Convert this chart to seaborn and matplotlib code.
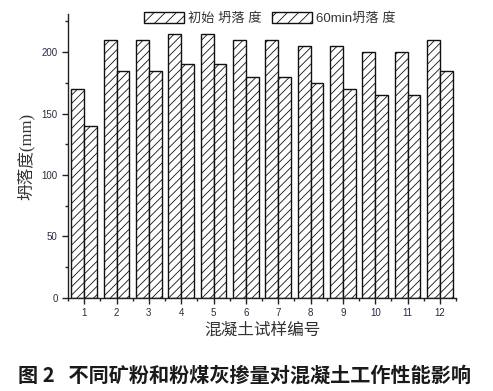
import matplotlib
matplotlib.use("Agg")
import matplotlib.pyplot as plt
import seaborn as sns
import pandas as pd
import numpy as np
from matplotlib.patches import Patch
from matplotlib.ticker import MultipleLocator

samples = [str(i) for i in range(1, 13)]
initial = [170, 210, 210, 215, 215, 210, 210, 205, 205, 200, 200, 210]
after60 = [140, 185, 185, 190, 190, 180, 180, 175, 170, 165, 165, 185]
series_names = ["初始 坍落 度", "60min坍落 度"]

df = pd.DataFrame({
    "sample": samples * 2,
    "value": initial + after60,
    "series": [series_names[0]] * 12 + [series_names[1]] * 12,
})

sns.set_style("ticks")
plt.rcParams['font.family'] = ['Liberation Sans', 'Noto Sans CJK SC', 'DejaVu Sans']
plt.rcParams['hatch.linewidth'] = 0.6
plt.rcParams['hatch.color'] = '#333333'

fig = plt.figure(figsize=(4.93, 3.91), dpi=100)
ax = fig.add_axes([0.138, 0.238, 0.787, 0.726])

sns.barplot(data=df, x="sample", y="value", hue="series", ax=ax,
            palette=["white", "white"], width=0.8, gap=0, legend=False,
            edgecolor="black", linewidth=1.0, saturation=1)
for p in ax.patches:
    p.set_hatch("////")
    p.set_edgecolor("#111111")
    p.set_facecolor("white")

ax.set_xlim(-0.5, 11.5)
ax.set_ylim(0, 231)
ax.yaxis.set_major_locator(MultipleLocator(50))
ax.yaxis.set_minor_locator(MultipleLocator(25))
ax.set_xticks(np.arange(-0.5, 12, 1), minor=True)
for s in ["top", "right"]:
    ax.spines[s].set_visible(False)
for s in ["left", "bottom"]:
    ax.spines[s].set_linewidth(1.0)
    ax.spines[s].set_color("#222222")
ax.tick_params(axis="both", which="major", direction="out", length=4, width=1,
               labelsize=7, colors="#222222", labelcolor="#2a2a40")
ax.tick_params(axis="both", which="minor", direction="out", length=2.5, width=1, colors="#222222")

ax.set_xlabel("混凝土试样编号", family=['Liberation Serif', 'Noto Sans CJK SC'], fontsize=12,
              color="#333333", labelpad=3)
ax.set_ylabel("坍落度(mm)", family=['Liberation Serif', 'Noto Sans CJK SC'], fontsize=12,
              color="#333333", labelpad=5)

handles = [Patch(facecolor="white", edgecolor="#111111", hatch="///", label=n) for n in series_names]
leg = ax.legend(handles=handles, loc="center", bbox_to_anchor=(0.52, 0.985), ncol=2,
                frameon=False, fontsize=9.5, handlelength=3.0, handleheight=1.0,
                columnspacing=0.8, handletextpad=0.3, borderaxespad=0)
for t in leg.get_texts():
    t.set_family(['Liberation Sans', 'Noto Sans CJK SC'])
    t.set_color("#333333")

fig.text(0.495, 0.041, "图 2   不同矿粉和粉煤灰掺量对混凝土工作性能影响",
         ha="center", va="center", fontsize=14.5, fontweight="bold",
         family=['Noto Sans CJK SC', 'DejaVu Sans'], color="#1a1a1a")

fig.savefig("out.png", dpi=100)
